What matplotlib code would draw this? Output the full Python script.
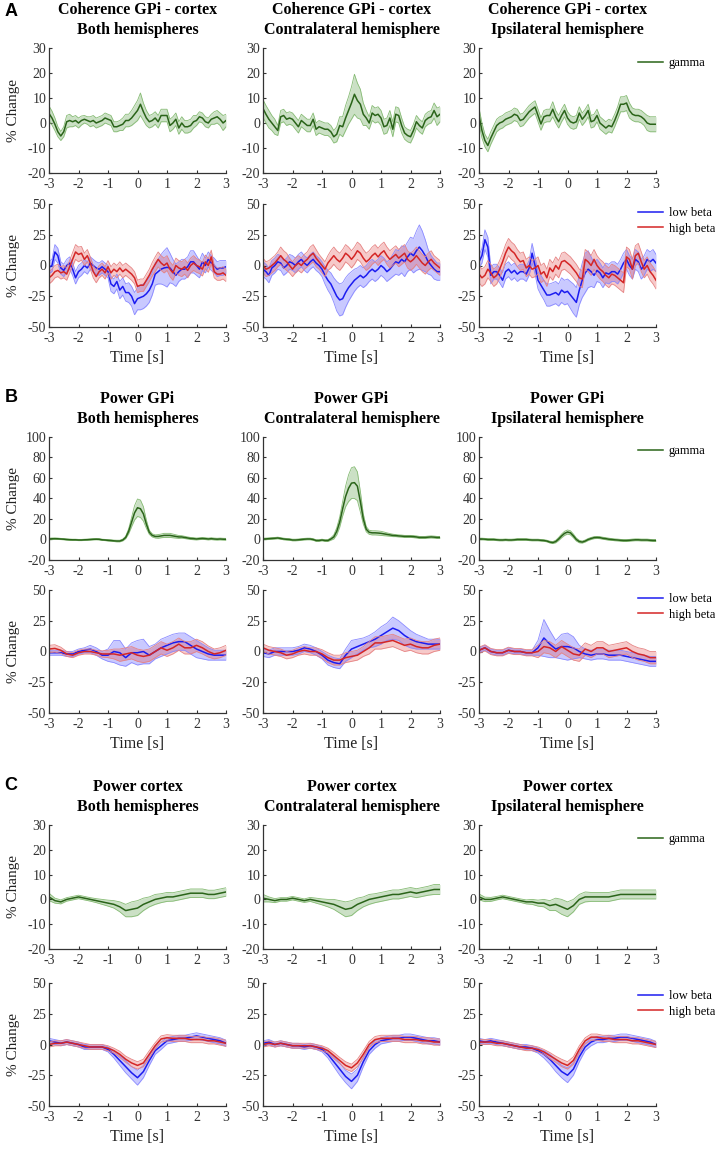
import numpy as np
import matplotlib
matplotlib.use('Agg')
from matplotlib import pyplot as plt
from matplotlib.lines import Line2D

plt.rcParams['font.family'] = ['Liberation Serif', 'DejaVu Serif']
plt.rcParams['axes.unicode_minus'] = False

W, H = 715, 1149

# time grids
t_fine = np.linspace(-3, 3, 61)
t_coarse = np.linspace(-3, 3, 31)

row_titles = ['Coherence GPi - cortex', 'Power GPi', 'Power cortex']
hemis = ['Both hemispheres', 'Contralateral hemisphere', 'Ipsilateral hemisphere']

# ---- A: coherence, gamma (0.1 s grid)
coh_gamma_both = [3.8, 2.0, -0.5, -3.5, -5.2, -3.5, 0.5, 1.0, 0.5, 1.0,
                  0.0, 1.0, 1.5, 1.0, 0.5, 1.0, 0.0, 0.5, 1.0, 2.0,
                  1.5, 1.0, -1.5, -1.5, -1.0, -0.5, 1.0, 1.0, 2.0, 3.5,
                  5.0, 7.5, 4.5, 2.0, 0.5, 1.0, 2.0, 0.5, 3.0, 3.0,
                  3.0, -1.0, 0.0, 1.5, -2.0, 0.0, -1.5, -1.5, -1.0, 0.5,
                  1.0, 2.5, 2.0, 0.5, 0.0, 1.5, 2.0, 2.5, 1.5, 0.0, 1.0]
coh_gamma_both_sem = [3.0, 2.8, 2.5, 2.0, 1.8, 2.0, 2.5, 2.5, 2.0, 2.0,
                      2.0, 1.8, 1.5, 1.5, 2.0, 2.0, 2.0, 2.0, 2.0, 2.0,
                      2.0, 2.0, 2.0, 2.0, 2.0, 2.5, 2.5, 2.5, 3.0, 3.5,
                      4.0, 4.5, 3.5, 3.0, 2.5, 2.5, 2.5, 2.5, 2.5, 2.5,
                      2.5, 2.5, 2.5, 2.5, 2.5, 2.5, 2.5, 2.5, 2.5, 2.5,
                      2.0, 2.0, 2.0, 2.0, 2.0, 2.0, 2.5, 2.5, 2.5, 3.0, 2.5]
coh_gamma_contra = [5.8, 3.5, 1.5, 0.0, -1.5, -3.0, 2.5, 3.0, 1.5, 2.0,
                    1.5, 0.0, -1.5, 1.0, 0.0, -1.0, -1.0, 1.5, -2.5, -1.5,
                    -2.0, -2.5, -2.5, -3.5, -5.5, -4.5, -1.0, -1.5, 2.0, 5.0,
                    8.0, 11.5, 9.0, 7.5, 3.5, 2.0, 0.0, 4.0, 3.0, 3.5,
                    2.0, -1.5, -1.0, 2.0, -2.5, 3.5, 3.0, -1.0, -4.0, -5.0,
                    -5.5, -3.0, 0.5, -1.0, -2.0, 1.0, 2.0, 2.5, 5.0, 2.5, 3.5]
coh_gamma_contra_sem = [3.5, 3.5, 3.5, 3.0, 3.0, 2.0, 2.5, 2.5, 2.5, 2.5,
                        2.5, 2.5, 2.5, 2.5, 2.5, 2.5, 2.5, 2.5, 2.5, 2.5,
                        2.5, 2.5, 2.5, 2.5, 2.5, 3.0, 3.5, 4.0, 5.0, 5.5,
                        6.5, 8.0, 7.0, 6.0, 4.5, 3.0, 2.5, 3.0, 3.0, 3.0,
                        3.0, 3.0, 3.0, 3.0, 3.0, 3.0, 3.0, 3.0, 2.5, 2.5,
                        2.5, 2.5, 2.5, 2.5, 2.5, 2.5, 2.5, 2.5, 3.0, 3.5, 3.0]
coh_gamma_ipsi = [3.0, -3.0, -7.0, -9.0, -6.0, -3.5, -1.0, 0.0, 0.5, 1.5,
                  2.0, 2.5, 3.5, 3.0, 1.0, 1.5, 3.0, 4.5, 5.5, 6.4,
                  3.0, -0.4, 2.5, 3.0, 3.0, 5.5, 2.5, 0.5, 3.0, 5.0,
                  2.0, 0.5, 0.0, 0.5, 4.0, 1.5, 3.0, 5.0, 0.5, 1.0,
                  3.0, 0.0, -1.0, -2.0, -1.0, -1.5, 1.0, 4.0, 7.5, 7.5,
                  8.0, 5.0, 3.5, 3.0, 3.0, 2.5, 1.5, 0.0, -0.5, -0.5, -0.5]
coh_gamma_ipsi_sem = [3.0, 3.0, 2.5, 2.5, 2.5, 2.5, 2.5, 2.5, 2.5, 2.5,
                      2.5, 2.5, 2.5, 2.5, 2.5, 2.5, 2.5, 2.5, 2.5, 2.5,
                      2.5, 2.5, 2.5, 2.5, 2.5, 3.0, 2.5, 2.5, 2.5, 2.5,
                      2.5, 2.5, 2.5, 2.5, 2.5, 2.5, 2.5, 2.5, 2.5, 2.5,
                      2.5, 2.5, 2.5, 2.5, 2.5, 2.5, 2.5, 2.5, 3.0, 3.0,
                      3.0, 3.0, 2.5, 2.5, 2.5, 2.5, 2.5, 3.0, 3.0, 3.0, 3.0]

# ---- A: coherence, beta (0.1 s grid)
coh_low_both = [-1.5, 0.0, 11.0, 8.0, -2.0, -4.0, 0.0, 2.0, -3.0, -10.0,
                -5.0, -3.0, 0.0, -2.0, 2.0, 0.0, -2.0, -3.0, -1.0, -3.0,
                -5.0, -15.0, -17.0, -13.0, -20.0, -17.0, -22.0, -22.0, -25.0, -31.0,
                -27.0, -26.0, -25.0, -23.0, -20.0, -15.0, -7.0, -5.0, -3.0, -2.0,
                -1.5, -2.0, -5.0, -8.0, -5.0, -3.0, -3.0, -1.0, 3.0, 3.0,
                0.0, -3.0, 3.0, 0.0, 5.0, 2.0, 0.0, -3.0, -2.0, -2.0, -1.0]
coh_low_both_sem = [5, 5, 6, 6, 5, 5, 5, 5, 5, 5,
                    5, 5, 5, 5, 5, 5, 5, 5, 5, 5,
                    5, 6, 6, 6, 7, 7, 7, 8, 8, 9,
                    9, 10, 10, 10, 10, 9, 9, 10, 12, 14,
                    16, 12, 10, 9, 8, 8, 8, 8, 9, 9,
                    8, 7, 7, 6, 6, 6, 6, 6, 6, 6, 5]
coh_high_both = [-10.0, -8.0, -5.0, -4.0, -6.0, -5.0, -7.0, -1.0, 5.0, 11.0,
                 9.0, 10.0, 5.0, 8.0, 2.0, -5.0, -9.0, -5.0, -3.0, -6.0,
                 -1.0, -6.0, -3.0, -5.0, -2.0, -5.0, -3.0, -5.0, -7.0, -10.0,
                 -17.0, -16.0, -16.0, -12.0, -8.0, -3.0, 1.0, 5.0, 2.0, 0.0,
                 2.0, -3.0, -6.0, 0.0, -2.0, -3.0, -1.0, -4.0, 0.0, 2.0,
                 0.0, -1.0, -3.0, 3.0, 0.0, 7.0, -5.0, -7.0, -7.0, -6.0, -8.0]
coh_high_both_sem = [5, 5, 5, 5, 5, 5, 5, 5, 5.5, 6,
                     6, 5.5, 5, 5, 5, 5, 5, 5, 5, 5,
                     5, 5, 5, 5, 5, 5, 5, 5, 5, 5,
                     5, 5, 5, 5, 5, 5.5, 6, 6, 6, 6,
                     6, 6, 6, 6, 6, 6, 6, 6, 6, 6,
                     5.5, 5.5, 5.5, 5.5, 5.5, 5.5, 5, 5, 5, 5, 5]
coh_low_contra = [-3, -5, -8, -2, 0, 3, 2, -2, 0, 3,
                  2, 0, 3, 5, 2, 0, 3, 5, 2, 0,
                  -3, -8, -12, -15, -20, -25, -28, -27, -22, -18,
                  -15, -12, -10, -8, -10, -8, -5, -3, -5, -3,
                  0, -2, -5, -3, 0, 3, 2, 5, 3, 7,
                  10, 8, 12, 15, 12, 8, 3, 0, -3, -5, -5]
coh_low_contra_sem = [6, 6, 6, 6, 6, 6, 6, 6, 6, 6,
                      6, 6, 6, 6, 6, 6, 6, 6, 6, 6,
                      6, 7, 8, 9, 10, 12, 13, 13, 12, 11,
                      10, 9, 8, 8, 8, 8, 8, 8, 8, 8,
                      8, 8, 8, 8, 9, 10, 10, 11, 12, 12,
                      13, 14, 16, 18, 16, 13, 10, 8, 8, 7, 7]
coh_high_contra = [0, -3, -2, 0, 2, 5, 8, 5, 3, 0,
                   -3, 0, 2, 0, 3, 5, 8, 10, 6, 3,
                   0, -3, 2, 5, 8, 5, 3, 6, 10, 8,
                   5, 8, 12, 10, 6, 3, 5, 8, 10, 7,
                   10, 12, 8, 5, 7, 9, 6, 8, 10, 5,
                   3, 5, 8, 5, 2, 0, 3, 5, 2, 0, -2]
coh_high_contra_sem = [6, 6, 6, 6, 6, 6, 7, 7, 7, 6,
                       6, 6, 6, 6, 6, 6, 7, 7, 7, 6,
                       6, 6, 6, 7, 7, 7, 7, 7, 7, 7,
                       7, 7, 7, 7, 7, 7, 7, 7, 7, 7,
                       7, 7, 7, 7, 7, 7, 7, 7, 7, 7,
                       7, 7, 7, 7, 7, 7, 7, 7, 6, 6, 6]
coh_low_ipsi = [3, 8, 21, 15, -8, -5, -5, -8, -12, -5,
                -3, -6, -4, -7, -5, -5, -7, -2, 10, 0,
                -12, -16, -20, -24, -24, -23, -22, -24, -20, -22,
                -21, -24, -27, -30, -20, -12, -6, -3, -5, -8,
                -4, -6, -10, -6, -7, -5, -5, -7, -3, 2,
                5, 0, -3, 5, 3, -3, 0, 5, 3, 5, 2]
coh_low_ipsi_sem = [5, 6, 8, 8, 7, 6, 6, 6, 6, 6,
                    6, 6, 6, 6, 6, 6, 6, 6, 8, 7,
                    7, 8, 8, 9, 9, 9, 9, 9, 10, 10,
                    10, 11, 12, 12, 12, 14, 16, 15, 12, 10,
                    9, 8, 8, 8, 8, 8, 8, 8, 8, 8,
                    8, 8, 8, 8, 8, 8, 8, 8, 8, 8, 7]
coh_high_ipsi = [-7, -10, -8, -3, -6, -10, -8, -3, 3, 10,
                 15, 12, 10, 6, 3, 4, -2, 0, -3, -2,
                 0, -7, -5, -10, -2, -5, 0, -3, 3, 4,
                 2, 0, -3, -6, -10, -11, 5, 3, 0, 5,
                 0, -3, -5, -8, -10, -7, -8, -10, -12, -14,
                 7, 5, -3, 8, 10, 3, -3, 0, -5, -8, -12]
coh_high_ipsi_sem = [7, 7, 7, 7, 7, 7, 7, 7, 7, 7,
                     7, 7, 7, 7, 7, 7, 7, 7, 7, 7,
                     7, 7, 7, 7, 7, 7, 7, 7, 7, 7,
                     7, 7, 7, 7, 7, 7, 8, 8, 8, 8,
                     8, 8, 8, 8, 8, 8, 8, 8, 8, 8,
                     8, 8, 8, 8, 8, 8, 7, 7, 7, 7, 7]

# ---- B: power GPi, gamma (0.1 s grid)
gpi_gamma_both = [0.5, 0.7, 0.8, 0.7, 0.5, 0.3, 0.0, -0.2, -0.3, -0.3,
                  -0.5, -0.5, -0.3, -0.2, 0.0, 0.2, 0.3, 0.2, -0.3, -0.5,
                  -0.8, -1.0, -1.3, -1.5, -1.5, -0.5, 2.0, 8.0, 17.0, 26.0,
                  31.0, 30.0, 25.0, 15.0, 7.0, 4.0, 3.0, 3.0, 3.5, 4.0,
                  4.0, 4.0, 3.5, 3.0, 2.5, 2.5, 2.0, 1.5, 1.0, 0.8,
                  0.5, 0.8, 1.0, 0.8, 0.5, 0.8, 0.5, 0.3, 0.5, 0.3, 0.2]
gpi_gamma_both_sem = [0.8, 0.8, 0.7, 0.7, 0.6, 0.6, 0.6, 0.6, 0.6, 0.6,
                      0.6, 0.6, 0.6, 0.6, 0.6, 0.6, 0.6, 0.6, 0.6, 0.6,
                      0.7, 0.7, 0.7, 0.8, 0.8, 0.9, 1.2, 2.5, 4.5, 7.0,
                      8.5, 8.5, 7.0, 4.0, 2.0, 1.5, 1.5, 1.8, 1.8, 2.0,
                      2.0, 2.0, 1.8, 1.6, 1.4, 1.2, 1.1, 1.0, 1.0, 1.0,
                      0.9, 0.9, 0.9, 0.9, 0.9, 0.9, 0.9, 0.9, 0.9, 0.9, 0.9]
gpi_gamma_contra = [0.5, 0.6, 0.8, 1.0, 1.2, 1.5, 1.0, 0.5, 0.2, 0.0,
                    -0.5, -0.5, -0.3, 0.0, 0.3, 0.5, 0.5, 0.0, -1.0, -1.0,
                    -0.5, -1.0, -1.0, 0.5, 2.5, 8.0, 17.0, 30.0, 42.0, 50.0,
                    55.0, 55.5, 52.0, 37.0, 20.0, 10.0, 7.0, 6.5, 6.5, 6.3,
                    6.0, 5.5, 5.0, 4.5, 4.0, 3.8, 3.5, 3.3, 3.0, 3.0,
                    3.0, 2.8, 2.5, 2.0, 2.0, 2.0, 2.3, 2.5, 2.3, 2.0, 2.0]
gpi_gamma_contra_sem = [0.8, 0.8, 0.8, 0.8, 0.8, 0.8, 0.8, 0.8, 0.8, 0.8,
                        0.8, 0.8, 0.8, 0.8, 0.8, 0.8, 0.8, 0.8, 0.8, 0.8,
                        0.8, 0.8, 0.9, 1.2, 2.0, 3.5, 5.0, 7.0, 10.0, 13.0,
                        15.0, 15.5, 14.0, 10.0, 5.0, 2.5, 2.0, 2.0, 2.0, 2.0,
                        2.0, 1.8, 1.5, 1.3, 1.2, 1.0, 1.0, 1.0, 1.0, 1.0,
                        1.0, 1.0, 1.0, 1.0, 1.0, 1.0, 1.0, 1.0, 1.0, 1.0, 1.0]
gpi_gamma_ipsi = [0.5, 0.5, 0.3, 0.0, 0.0, 0.0, -0.3, -0.5, -0.5, -0.3,
                  -0.5, -0.5, -0.3, 0.0, 0.0, 0.0, 0.0, -0.3, -0.5, -0.5,
                  -0.5, -0.8, -1.0, -1.5, -2.5, -3.0, -2.0, 0.5, 3.5, 6.0,
                  7.3, 6.5, 3.5, 0.0, -2.0, -2.5, -1.5, 0.0, 1.0, 1.8,
                  2.0, 1.8, 1.2, 0.8, 0.3, 0.0, -0.3, -0.5, -0.8, -1.0,
                  -1.0, -0.8, -0.5, -0.3, -0.3, -0.5, -0.5, -0.5, -0.8, -1.0, -1.0]
gpi_gamma_ipsi_sem = [0.8, 0.8, 0.8, 0.8, 0.8, 0.8, 0.8, 0.8, 0.8, 0.8,
                      0.8, 0.8, 0.8, 0.8, 0.8, 0.8, 0.8, 0.8, 0.8, 0.8,
                      0.8, 0.8, 0.8, 0.8, 0.9, 1.0, 1.2, 1.5, 1.8, 2.0,
                      2.0, 2.0, 1.8, 1.5, 1.2, 1.0, 1.0, 1.0, 1.0, 1.0,
                      1.0, 1.0, 1.0, 1.0, 1.0, 0.9, 0.9, 0.9, 0.9, 0.9,
                      0.9, 0.9, 0.9, 0.9, 0.9, 0.9, 0.9, 0.9, 0.9, 0.9, 0.9]

# ---- B: power GPi, beta (0.2 s grid)
gpi_low_both = [-1, -1, -1, -2, -2, 0, 1, 2, 0, -3,
                -3, 0, -1, -5, -1, -1, 0, -3, 0, 3,
                5, 7, 8, 8, 5, 2, 0, -2, -3, -3, -3]
gpi_low_both_sem = [2, 2, 2, 2, 2, 2, 2, 3, 3, 3,
                    5, 9, 10, 7, 8, 10, 10, 7, 6, 7,
                    7, 7, 7, 7, 7, 7, 6, 5, 4, 4, 4]
gpi_high_both = [2, 2.5, 1, -2, -3, -1, 0, 0, -1, -2,
                 -2, -2, -3, -2, -1, -3, -4, -3, 0, 3,
                 1, 3, 6, 3, 3, 5, 3, 0, -2, -1, 1]
gpi_high_both_sem = [3, 3, 2.5, 2, 2, 2, 2, 2, 2, 2.5,
                     3, 4, 5, 5, 5, 5, 5, 5, 5, 5,
                     5, 5, 5, 5, 5, 5, 5, 4.5, 4, 4, 4]
gpi_low_contra = [-1, -2, 0, 0, 0, 0, 1, 3, 2, 0,
                  -3, -7, -9, -10, -3, 2, 4, 6, 8, 10,
                  13, 16, 19, 17, 13, 10, 8, 7, 6, 6, 6]
gpi_low_contra_sem = [3, 3, 3, 3, 3, 3, 3, 3, 3, 3,
                      3, 4, 4, 4, 5, 7, 6, 5, 5, 6,
                      7, 7, 9, 8, 8, 7, 6, 5, 4, 4, 4]
gpi_high_contra = [3, 1, 0, -1, -3, -2, 0, 1, 0, 0,
                   -2, -5, -7, -7, -5, -4, -3, 0, 3, 7,
                   7, 8, 9, 7, 5, 6, 4, 3, 3, 5, 6]
gpi_high_contra_sem = [3, 3, 3, 3, 3, 3, 3, 3, 3, 3,
                       3.5, 4, 4, 4, 4, 4, 4, 4, 5, 5,
                       5, 5, 5, 5, 5, 5, 5, 5, 5, 5, 5]
gpi_low_ipsi = [1, 3, 0, -1, -1, 1, 0, 0, -1, -1,
                3, 11, 6, 2, 4, 4, 3, 0, -2, -3,
                -2, -2, -3, -3, -3, -4, -5, -6, -7, -8, -8]
gpi_low_ipsi_sem = [2, 2, 2, 2, 2, 2, 2, 2, 2, 2,
                    6, 15, 11, 7, 10, 11, 9, 5, 4, 4,
                    4, 4, 4, 4, 4, 4, 4, 4, 4, 4, 4]
gpi_high_ipsi = [1, 3, 0, -1, -1, 1, 0, 0, -1, -1,
                 0, 4, 3, 0, 4, 1, -2, -3, 2, 0,
                 3, 3, 0, 1, 2, 3, 0, -2, -3, -5, -5]
gpi_high_ipsi_sem = [2.5, 2.5, 2.5, 2.5, 2.5, 2.5, 2.5, 2.5, 2.5, 2.5,
                     5, 5, 5, 5, 5, 5, 5, 5, 5, 5,
                     5, 5, 5, 5, 5, 5, 5, 5, 5, 5, 5]

# ---- C: power cortex, gamma (0.2 s grid)
ctx_gamma_both = [1, -0.5, -1, 0, 0.5, 1, 0.5, 0, -0.5, -1,
                  -1.5, -2, -3, -4.5, -4, -3.5, -2, -1, 0, 0.5,
                  1, 1, 1.5, 2, 2.5, 2.5, 2.5, 2, 2, 2.5, 3]
ctx_gamma_both_sem = [1.5, 1.0, 0.8, 0.7, 0.7, 0.7, 0.7, 0.7, 0.8, 1.0,
                      1.2, 1.5, 2.0, 2.5, 3.0, 3.0, 2.5, 2.0, 2.0, 1.8,
                      1.8, 1.7, 1.7, 1.7, 1.7, 1.7, 1.7, 1.7, 1.7, 1.7, 1.7]
ctx_gamma_contra = [0.5, 0, -0.5, 0, 0, 0.5, 0, -0.5, 0, -0.5,
                    -1, -1.5, -2, -3, -4, -3.5, -2, -1, 0, 0.5,
                    1, 1.5, 2, 2, 2.5, 3, 2.5, 3, 3.5, 4, 4]
ctx_gamma_contra_sem = [1.5, 1.0, 0.8, 0.7, 0.7, 0.7, 0.7, 0.7, 0.8, 1.0,
                        1.2, 1.5, 2.0, 2.5, 3.0, 3.0, 2.5, 2.0, 2.0, 1.8,
                        1.8, 1.8, 1.8, 1.8, 1.8, 1.8, 1.8, 1.8, 1.8, 2.0, 2.0]
ctx_gamma_ipsi = [1, 0, 0, 0.5, 1, 0.5, 0, -0.5, -1, -1,
                  -1.5, -1.5, -2.5, -2, -3, -4, -2.5, 0, 1, 1,
                  1, 1, 1, 1.5, 2, 2, 2, 2, 2, 2, 2]
ctx_gamma_ipsi_sem = [1.2, 0.9, 0.8, 0.7, 0.7, 0.7, 0.7, 0.7, 0.8, 1.0,
                      1.2, 1.5, 2.0, 2.5, 3.0, 3.0, 2.5, 2.0, 2.0, 1.8,
                      1.8, 1.8, 1.8, 1.8, 1.8, 1.8, 1.8, 1.8, 1.8, 1.8, 1.8]

# ---- C: power cortex, beta (0.2 s grid)
ctx_low_both = [3, 2, 1, 2, 1, 0, -2, -2, -2, -2,
                -4, -8, -13, -18, -23, -27, -22, -13, -5, -1,
                3, 4, 5, 5, 6, 7, 6, 5, 4, 3, 1]
ctx_low_both_sem = [2, 2, 2, 2, 2, 2, 2, 2, 2, 2,
                    2, 3, 4, 5, 5, 6, 5, 4, 3, 3,
                    2.5, 2.5, 2.5, 2.5, 2.5, 2.5, 2.5, 2.5, 2.5, 2.5, 2.5]
ctx_high_both = [0, 1, 1, 2, 1, 0, -1, -2, -2, -2,
                 -3, -5, -8, -12, -15, -17, -15, -8, -1, 4.5,
                 5.5, 5, 5, 5, 4, 4, 4, 3, 3, 2, 1]
ctx_high_both_sem = [2, 2, 2, 2, 2, 2, 2, 2, 2, 2,
                     2, 2, 2.5, 2.5, 3, 3, 3, 3, 2.5, 2.5,
                     2.5, 2.5, 2.5, 2.5, 2.5, 2.5, 2.5, 2.5, 2.5, 2.5, 2.5]
ctx_low_contra = [1, 2, 0, 1, 0, -1, -1, -2, -1, -2,
                  -4, -8, -14, -20, -26, -30, -25, -14, -5, 0,
                  3, 4, 5, 5, 6, 6, 5, 4, 3, 3, 2]
ctx_low_contra_sem = [2, 2, 2, 2, 2, 2, 2, 2, 2, 2,
                      2, 3, 4, 5, 5, 6, 5, 4, 3, 3,
                      2.5, 2.5, 2.5, 2.5, 2.5, 2.5, 2.5, 2.5, 2.5, 2.5, 2.5]
ctx_high_contra = [0, 1, 0, 1, 0, -1, -1, -1, -1, -2,
                   -3, -5, -9, -13, -17, -19, -15, -8, 0, 4,
                   5, 5, 5, 5, 4, 4, 4, 3, 3, 2, 2]
ctx_high_contra_sem = [2, 2, 2, 2, 2, 2, 2, 2, 2, 2,
                       2, 2, 2.5, 2.5, 3, 3, 3, 3, 2.5, 2.5,
                       2.5, 2.5, 2.5, 2.5, 2.5, 2.5, 2.5, 2.5, 2.5, 2.5, 2.5]
ctx_low_ipsi = [3, 2, 3, 2, 1, 0, -1, -2, -2, -3,
                -5, -8, -12, -17, -22, -25, -20, -10, -2, 2,
                4, 4, 5, 5, 6, 6, 5, 4, 3, 2, 0]
ctx_low_ipsi_sem = [2, 2, 2, 2, 2, 2, 2, 2, 2, 2,
                    2, 3, 4, 5, 5, 6, 5, 4, 3, 3,
                    2.5, 2.5, 2.5, 2.5, 2.5, 2.5, 2.5, 2.5, 2.5, 2.5, 2.5]
ctx_high_ipsi = [2, 2, 2, 1, 1, 0, -1, -2, -3, -3,
                 -4, -6, -9, -12, -15, -17, -13, -4, 3, 6,
                 6, 5, 5, 4, 4, 4, 3, 3, 2, 1, 0]
ctx_high_ipsi_sem = [2, 2, 2, 2, 2, 2, 2, 2, 2, 2,
                     2, 2, 2.5, 2.5, 3, 3, 3, 3, 2.5, 2.5,
                     2.5, 2.5, 2.5, 2.5, 2.5, 2.5, 2.5, 2.5, 2.5, 2.5, 2.5]

gamma_rows = [
    (t_fine, [(coh_gamma_both, coh_gamma_both_sem), (coh_gamma_contra, coh_gamma_contra_sem), (coh_gamma_ipsi, coh_gamma_ipsi_sem)]),
    (t_fine, [(gpi_gamma_both, gpi_gamma_both_sem), (gpi_gamma_contra, gpi_gamma_contra_sem), (gpi_gamma_ipsi, gpi_gamma_ipsi_sem)]),
    (t_coarse, [(ctx_gamma_both, ctx_gamma_both_sem), (ctx_gamma_contra, ctx_gamma_contra_sem), (ctx_gamma_ipsi, ctx_gamma_ipsi_sem)]),
]
beta_rows = [
    (t_fine, [(coh_low_both, coh_low_both_sem, coh_high_both, coh_high_both_sem),
              (coh_low_contra, coh_low_contra_sem, coh_high_contra, coh_high_contra_sem),
              (coh_low_ipsi, coh_low_ipsi_sem, coh_high_ipsi, coh_high_ipsi_sem)]),
    (t_coarse, [(gpi_low_both, gpi_low_both_sem, gpi_high_both, gpi_high_both_sem),
                (gpi_low_contra, gpi_low_contra_sem, gpi_high_contra, gpi_high_contra_sem),
                (gpi_low_ipsi, gpi_low_ipsi_sem, gpi_high_ipsi, gpi_high_ipsi_sem)]),
    (t_coarse, [(ctx_low_both, ctx_low_both_sem, ctx_high_both, ctx_high_both_sem),
                (ctx_low_contra, ctx_low_contra_sem, ctx_high_contra, ctx_high_contra_sem),
                (ctx_low_ipsi, ctx_low_ipsi_sem, ctx_high_ipsi, ctx_high_ipsi_sem)]),
]

gamma_ticks = [[-20, -10, 0, 10, 20, 30], [-20, 0, 20, 40, 60, 80, 100], [-20, -10, 0, 10, 20, 30]]
beta_ticks = [-50, -25, 0, 25, 50]
x_ticks = [-3, -2, -1, 0, 1, 2, 3]

GREEN = ('#2a6419', '#3f8f2a', '#86bb74')
BLUE = ('#1c1cf0', '#3a3aff', '#8a8aff')
RED = ('#d42626', '#e03a3a', '#e68484')

col_left = [49, 263, 479]
ax_w = 177
gamma_y = [(48, 173), (437, 560), (825, 949)]
beta_y = [(204, 327), (590, 713), (983, 1106)]
letter_y = [11, 398, 786]
gamma_leg_y = [57, 445, 833]
beta_leg_y = [207, 593, 990]


def band(ax, t, m, s, colors):
    m = np.asarray(m, float)
    s = np.asarray(s, float)
    line_c, fill_c, edge_c = colors
    ax.fill_between(t, m - s, m + s, color=fill_c, alpha=0.27, lw=0)
    ax.plot(t, m - s, color=edge_c, lw=0.6)
    ax.plot(t, m + s, color=edge_c, lw=0.6)
    ax.plot(t, m, color=line_c, lw=1.1)


def style(ax, yt, ylim):
    for side in ['top', 'right']:
        ax.spines[side].set_visible(False)
    for side in ['left', 'bottom']:
        ax.spines[side].set_color('#333333')
        ax.spines[side].set_linewidth(0.9)
    ax.set_xlim(-3, 3)
    ax.set_ylim(*ylim)
    ax.set_xticks(x_ticks)
    ax.set_yticks(yt)
    ax.tick_params(direction='in', length=2.5, width=0.8, colors='#333333',
                   labelsize=10, pad=2)
    ax.tick_params(axis='x', pad=3.5)


def ylab(ax):
    ax.set_ylabel('% Change', fontsize=11, color='#222222')
    ax.yaxis.set_label_coords((20 - col_left[0]) / ax_w, 0.5)


fig = plt.figure(figsize=(W / 100, H / 100), dpi=100)

def make_ax(col, ytop, ybot):
    return fig.add_axes([col_left[col] / W, 1 - ybot / H, ax_w / W, (ybot - ytop) / H])

for r in range(3):
    tg, gdata = gamma_rows[r]
    tb, bdata = beta_rows[r]
    for c in range(3):
        ax = make_ax(c, *gamma_y[r])
        m, s = gdata[c]
        band(ax, tg, m, s, GREEN)
        style(ax, gamma_ticks[r], (gamma_ticks[r][0], gamma_ticks[r][-1]))
        ax.annotate(row_titles[r] + '\n' + hemis[c], xy=(0.5, 1), xycoords='axes fraction',
                    xytext=(0, 20.3), textcoords='offset points', ha='center', va='center',
                    fontsize=11.5, fontweight='bold', linespacing=1.35)
        if c == 0:
            ylab(ax)
        if c == 2:
            ax.legend([Line2D([], [], color=GREEN[0], lw=1.1)], ['gamma'],
                      loc='upper left', bbox_to_anchor=(638 / W, 1 - gamma_leg_y[r] / H),
                      bbox_transform=fig.transFigure, frameon=False, borderpad=0,
                      borderaxespad=0, handlelength=2.0, handletextpad=0.45, fontsize=9)

        ax = make_ax(c, *beta_y[r])
        lm, ls, hm, hs = bdata[c]
        band(ax, tb, lm, ls, BLUE)
        band(ax, tb, hm, hs, RED)
        style(ax, beta_ticks, (-50, 50))
        if r == 1 and c == 1:
            ax.set_yticklabels(['-50', '-20', '0', '25', '50'])
        ax.set_xlabel('Time [s]', fontsize=11.5, color='#222222')
        ax.xaxis.set_label_coords(0.5, -0.19)
        if c == 0:
            ylab(ax)
        if c == 2:
            ax.legend([Line2D([], [], color=BLUE[0], lw=1.1), Line2D([], [], color=RED[0], lw=1.1)],
                      ['low beta', 'high beta'],
                      loc='upper left', bbox_to_anchor=(638 / W, 1 - beta_leg_y[r] / H),
                      bbox_transform=fig.transFigure, frameon=False, borderpad=0,
                      borderaxespad=0, handlelength=2.0, handletextpad=0.45,
                      labelspacing=0.3, fontsize=9)

    fig.text(11 / W, 1 - letter_y[r] / H, 'ABC'[r], fontsize=13, fontweight='bold',
             family='Liberation Sans', ha='center', va='center')

fig.savefig('out.png', dpi=100)
